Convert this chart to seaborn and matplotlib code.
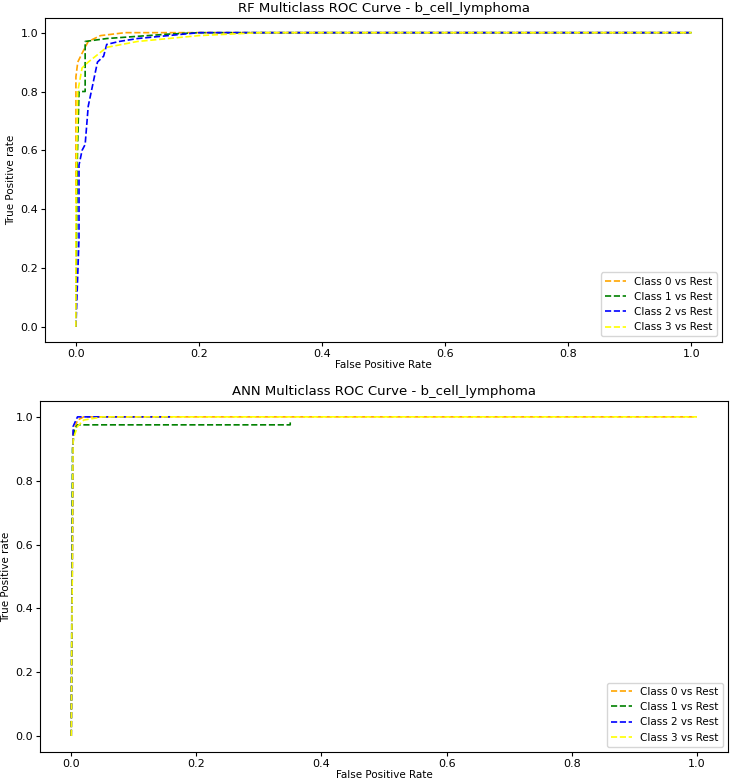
import matplotlib
matplotlib.use("Agg")
import matplotlib.pyplot as plt
import pandas as pd
import seaborn as sns

classes = ["Class 0 vs Rest", "Class 1 vs Rest", "Class 2 vs Rest", "Class 3 vs Rest"]
colors = ["orange", "green", "blue", "yellow"]

# RF curves (fpr, tpr)
rf_fpr = [
    [0, 0, 0.003, 0.01, 0.02, 0.04, 0.08, 1.0],
    [0, 0.002, 0.005, 0.015, 0.015, 0.05, 0.15, 0.2, 1.0],
    [0, 0.005, 0.005, 0.01, 0.015, 0.02, 0.03, 0.035, 0.045, 0.05, 0.07, 0.1, 0.15, 0.2, 1.0],
    [0, 0, 0.003, 0.01, 0.02, 0.05, 0.1, 0.2, 0.3, 1.0],
]
rf_tpr = [
    [0, 0.85, 0.9, 0.93, 0.97, 0.99, 1.0, 1.0],
    [0, 0.55, 0.8, 0.8, 0.97, 0.98, 0.995, 1.0, 1.0],
    [0, 0.3, 0.55, 0.6, 0.62, 0.75, 0.85, 0.9, 0.92, 0.96, 0.97, 0.98, 0.99, 1.0, 1.0],
    [0, 0.4, 0.8, 0.88, 0.9, 0.95, 0.97, 0.99, 1.0, 1.0],
]

# ANN curves
ann_fpr = [
    [0, 0.003, 0.01, 0.02, 1.0],
    [0, 0.002, 0.005, 0.01, 0.35, 0.35],
    [0, 0.003, 0.01, 0.16],
    [0, 0.003, 0.01, 0.02, 0.05, 1.0],
]
ann_tpr = [
    [0, 0.95, 0.99, 1.0, 1.0],
    [0, 0.9, 0.96, 0.975, 0.975, 0.99],
    [0, 0.97, 1.0, 1.0],
    [0, 0.93, 0.97, 0.99, 1.0, 1.0],
]


def draw(ax, fprs, tprs, title):
    for name, c, f, t in zip(classes, colors, fprs, tprs):
        df = pd.DataFrame({"fpr": f, "tpr": t})
        sns.lineplot(data=df, x="fpr", y="tpr", ax=ax, color=c, linestyle="--",
                     sort=False, estimator=None, label=name, linewidth=1.2)
    ax.set_title(title, fontsize=9.5, pad=4)
    ax.set_xlabel("False Positive Rate", fontsize=7.5, labelpad=1)
    ax.set_ylabel("True Positive rate", fontsize=7.5, labelpad=3)
    ax.tick_params(labelsize=8, length=3, pad=2)
    ax.legend(loc="lower right", fontsize=7.5)


fig = plt.figure(figsize=(7.4, 7.8), dpi=100)
ax1 = fig.add_axes([0.061, 0.562, 0.915, 0.415])
ax2 = fig.add_axes([0.054, 0.036, 0.930, 0.450])
draw(ax1, rf_fpr, rf_tpr, "RF Multiclass ROC Curve - b_cell_lymphoma")
draw(ax2, ann_fpr, ann_tpr, "ANN Multiclass ROC Curve - b_cell_lymphoma")
fig.savefig("out.png")
